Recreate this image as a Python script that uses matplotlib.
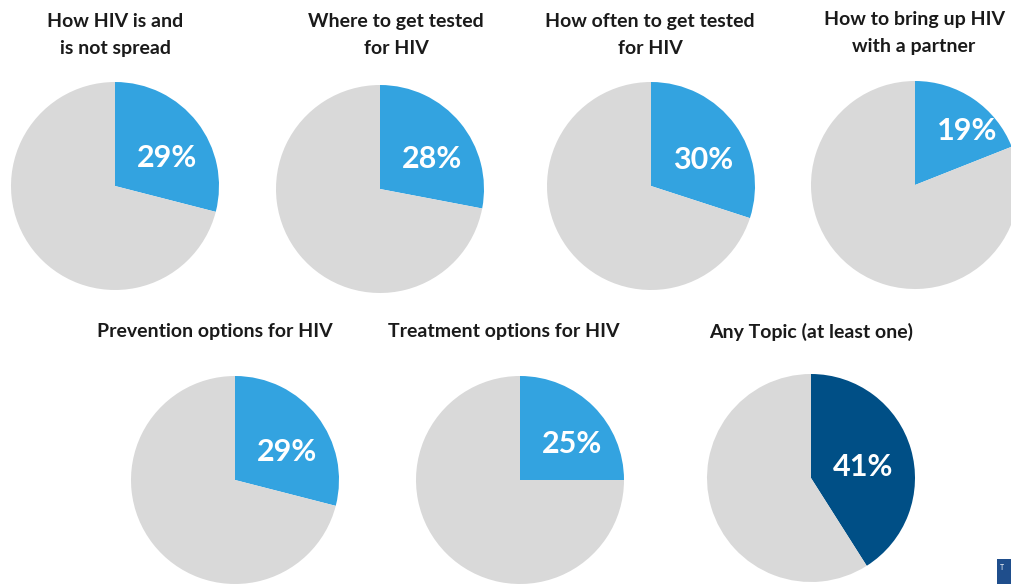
import matplotlib
matplotlib.use("Agg")
import matplotlib.pyplot as plt
import numpy as np
from matplotlib.patches import Rectangle

topics = ["How HIV is and\nis not spread", "Where to get tested\nfor HIV",
          "How often to get tested\nfor HIV", "How to bring up HIV\nwith a partner",
          "Prevention options for HIV", "Treatment options for HIV",
          "Any Topic (at least one)"]
values = [29, 28, 30, 19, 29, 25, 41]
labels = ["29%", "28%", "30%", "19%", "29%", "25%", "41%"]

# layout in pixels (center x, center y from top, radius)
W, H = 1011, 584
centers = [(115, 186), (380, 189), (651, 186), (915, 185),
           (235, 480), (520, 480), (811, 478)]
R = 104
title_pos = [(115, 20), (396, 20), (650, 20), (914, 18),
             (215, 330), (504, 330), (811, 330)]

BLUE = "#33A3E0"
DARK = "#004F86"
GREY = "#D9D9D9"

plt.rcParams['font.family'] = ['Lato', 'DejaVu Sans']
fig = plt.figure(figsize=(W / 100, H / 100), dpi=100)
fig.patch.set_facecolor("white")

for i, (t, v, lab) in enumerate(zip(topics, values, labels)):
    cx, cy = centers[i]
    ax = fig.add_axes([(cx - R) / W, (H - cy - R) / H, 2 * R / W, 2 * R / H])
    col = DARK if i == 6 else BLUE
    ax.pie([v, 100 - v], colors=[col, GREY], startangle=90, counterclock=False,
           radius=1, wedgeprops=dict(linewidth=0))
    mid = np.deg2rad(90 - v / 100 * 180)
    lx = 0.5
    ly = 0.35 * np.tan(mid)
    ax.text(lx, ly, lab, color="white", fontsize=22, fontweight="bold",
            ha="center", va="center")
    ax.set_xlim(-1, 1)
    ax.set_ylim(-1, 1)
    ax.set_aspect("equal")
    ax.axis("off")
    tx, ty = title_pos[i]
    fig.text(tx / W, 1 - (ty - 7) / H, t, ha="center", va="top", fontsize=14,
             fontweight="bold", color="#1a1a1a", linespacing=1.68)

# small logo block in the corner
fig.patches.append(Rectangle((997 / W, 0), 14 / W, 25 / H, transform=fig.transFigure,
                             facecolor="#1F4E8C", edgecolor="none"))
fig.text(1000 / W, 20 / H, "T", fontsize=5, color="white", va="top")

fig.savefig("out.png", dpi=100, facecolor="white")
